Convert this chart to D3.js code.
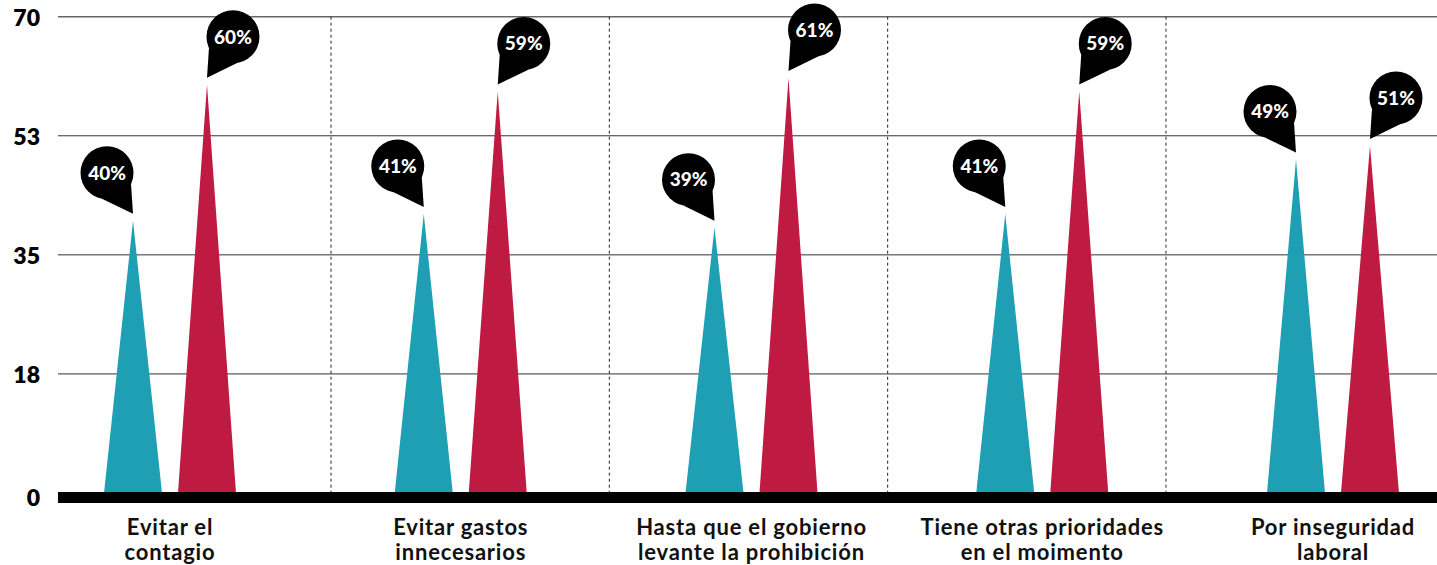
<!DOCTYPE html>
<html>
<head>
<meta charset="utf-8">
<script src="https://cdn.jsdelivr.net/npm/d3@7"></script>
<style>
  body { margin: 0; background: #fff; }
  text { font-family: Lato, "Open Sans", sans-serif; font-weight: 700; }
</style>
</head>
<body>
<div id="chart"></div>
<script>
// data
const categories = [
    ["Evitar el", "contagio"],
    ["Evitar gastos", "innecesarios"],
    ["Hasta que el gobierno", "levante la prohibición"],
    ["Tiene otras prioridades", "en el moimento"],
    ["Por inseguridad", "laboral"]
];
const seriesNames = ["a", "b"];
const tealValues = [40, 41, 39, 41, 49];
const redValues = [60, 59, 61, 59, 51];
const yTicks = [0, 17.5, 35, 52.5, 70];

const width = 1437, height = 565;
const plotLeft = 58, plotRight = 1437, plotTop = 16.7, zeroY = 493;
const colors = {a: "#1e9fb4", b: "#bf1a42"};

const svg = d3.select("#chart").append("svg")
    .attr("width", width)
    .attr("height", height);

const y = d3.scaleLinear().domain([0, 70]).range([zeroY, plotTop]);
const x = d3.scalePoint().domain(d3.range(categories.length)).range([170, 1333]);
const sub = d3.scaleBand().domain(seriesNames).range([-66, 66]).paddingInner(0.216);
const sep = d3.scaleLinear().domain([0, 5]).range([52.7, 1444.3]);

// horizontal grid
svg.append("g").selectAll("line")
    .data(yTicks.filter(d => d > 0))
    .enter().append("line")
    .attr("x1", plotLeft).attr("x2", plotRight)
    .attr("y1", d => y(d)).attr("y2", d => y(d))
    .attr("stroke", d => d == 70 ? "#666" : "#333")
    .attr("stroke-width", d => d == 70 ? 1.5 : 1);

// dashed separators
svg.append("g").selectAll("line")
    .data([1, 2, 3, 4])
    .enter().append("line")
    .attr("x1", d => sep(d)).attr("x2", d => sep(d))
    .attr("y1", y(70)).attr("y2", zeroY)
    .attr("stroke", "#222")
    .attr("stroke-width", 1)
    .attr("stroke-dasharray", "3,3");

// y labels
svg.append("g").selectAll("text")
    .data(yTicks)
    .enter().append("text")
    .attr("x", 40)
    .attr("y", d => d == 0 ? zeroY + 5 : y(d) + 1)
    .attr("dy", "0.35em")
    .attr("text-anchor", "end")
    .style("font-size", "23px")
    .style("font-weight", 800)
    .text(d => Math.round(d));

// spikes
const points = [];
categories.forEach((c, i) => {
    points.push({i: i, s: "a", v: tealValues[i]});
    points.push({i: i, s: "b", v: redValues[i]});
});

svg.append("g").selectAll("path")
    .data(points)
    .enter().append("path")
    .attr("d", d => {
        const x0 = x(d.i) + sub(d.s);
        const x1 = x0 + sub.bandwidth();
        const xm = (x0 + x1) / 2;
        return "M" + x0 + "," + zeroY + "L" + xm + "," + y(d.v) + "L" + x1 + "," + zeroY + "Z";
    })
    .attr("fill", d => colors[d.s]);

// baseline
svg.append("rect")
    .attr("x", plotLeft)
    .attr("y", zeroY - 1)
    .attr("width", plotRight - plotLeft)
    .attr("height", 11)
    .attr("fill", "#000");

// callouts
const r = 26.5;
const bubbles = svg.append("g").selectAll("g")
    .data(points)
    .enter().append("g")
    .attr("transform", d => {
        const xm = x(d.i) + sub(d.s) + sub.bandwidth() / 2;
        return "translate(" + xm + "," + (y(d.v) - 7) + ")";
    });

bubbles.append("path")
    .attr("d", d => {
        const dir = d.s == "a" ? -1 : 1;
        const cx = dir * 26, cy = -41;
        // tail base on the circle
        const a1 = d.s == "a" ? 25 : 155, a2 = d.s == "a" ? 100 : 80;
        const p1 = [cx + r * Math.cos(a1 * Math.PI / 180), cy + r * Math.sin(a1 * Math.PI / 180)];
        const p2 = [cx + r * Math.cos(a2 * Math.PI / 180), cy + r * Math.sin(a2 * Math.PI / 180)];
        return "M0,0L" + p1[0] + "," + p1[1] + "L" + p2[0] + "," + p2[1] + "Z";
    })
    .attr("fill", "#000");

bubbles.append("circle")
    .attr("cx", d => d.s == "a" ? -26 : 26)
    .attr("cy", -41)
    .attr("r", r)
    .attr("fill", "#000");

bubbles.append("text")
    .attr("x", d => d.s == "a" ? -26 : 26)
    .attr("y", -41)
    .attr("dy", "0.36em")
    .attr("text-anchor", "middle")
    .attr("fill", "#fff")
    .style("font-size", "19px")
    .style("font-weight", 900)
    .text(d => d.v + "%");

// category labels
const labels = svg.append("g").selectAll("text")
    .data(categories)
    .enter().append("text")
    .attr("text-anchor", "middle")
    .style("font-size", "22px")
    .style("letter-spacing", "0.8px")
    .attr("fill", "#111");

labels.selectAll("tspan")
    .data((d, i) => d.map(t => ({t: t, i: i})))
    .enter().append("tspan")
    .attr("x", d => x(d.i))
    .attr("y", (d, j) => 535 + j * 25)
    .text(d => d.t);
</script>
</body>
</html>
